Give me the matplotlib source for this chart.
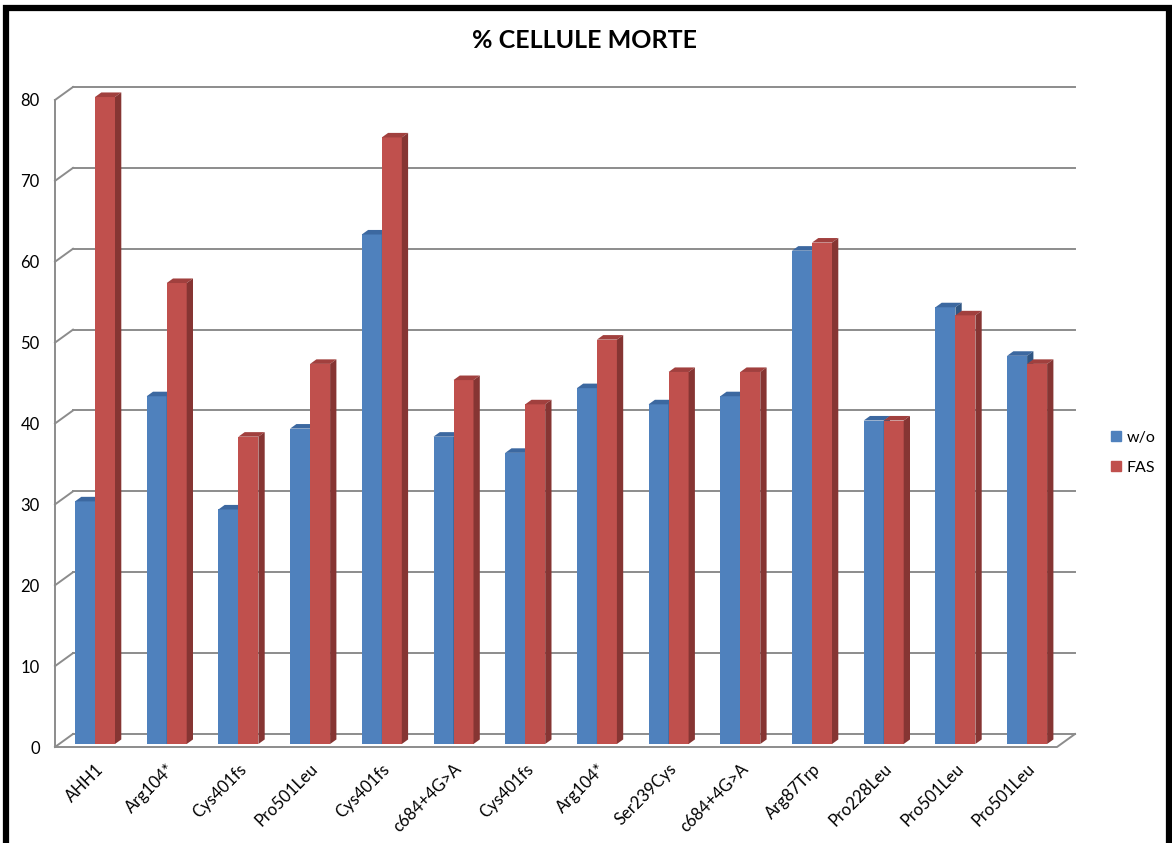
import matplotlib.pyplot as plt
import numpy as np
from matplotlib.patches import Polygon, Rectangle, Patch

plt.rcParams['font.family'] = ['Lato', 'DejaVu Sans']

# dati
labels = ['AHH1', 'Arg104*', 'Cys401fs', 'Pro501Leu', 'Cys401fs', 'c684+4G>A',
          'Cys401fs', 'Arg104*', 'Ser239Cys', 'c684+4G>A', 'Arg87Trp',
          'Pro228Leu', 'Pro501Leu', 'Pro501Leu']
wo = [30, 43, 29, 39, 63, 38, 36, 44, 42, 43, 61, 40, 54, 48]
fas = [80, 57, 38, 47, 75, 45, 42, 50, 46, 46, 62, 40, 53, 47]
yticks = list(range(0, 81, 10))
series_names = ['w/o', 'FAS']

W, H = 1172, 843
fig = plt.figure(figsize=(W / 100, H / 100), dpi=100)

# posizione assi in pixel (piano frontale)
px_left, px_right = 55, 1057
px_zero, px_top = 747, 100
px_center0, px_step = 95, 71.7
ax = fig.add_axes([px_left / W, (H - px_zero) / H,
                   (px_right - px_left) / W, (px_zero - px_top) / H])
x0 = (px_left - px_center0) / px_step
x1 = (px_right - px_center0) / px_step
ax.set_xlim(x0, x1)
ax.set_ylim(0, 80)
for s in ax.spines.values():
    s.set_visible(False)

# profondità 3D in unità dati
unit_y = (px_zero - px_top) / 80
dx = 18 / px_step
dy = 13 / unit_y
grid_col = '#8c8c8c'
lw = 1.4

# pareti e griglia
for v in yticks:
    ax.plot([x0 + dx, x1 + dx], [v + dy, v + dy], color=grid_col, lw=lw,
            clip_on=False, zorder=1)
    ax.plot([x0, x0 + dx], [v, v + dy], color=grid_col, lw=lw,
            clip_on=False, zorder=1)
ax.plot([x0, x0], [0, 80], color=grid_col, lw=lw, clip_on=False, zorder=1)
ax.plot([x0, x1, x1 + dx], [0, 0, dy], color=grid_col, lw=lw,
        clip_on=False, zorder=1)

# barre 3D
pos = np.arange(len(labels))
bw = 20 / px_step
shift = 0.23 * dy
sdx, sdy = 0.35 * dx, 0.35 * dy
styles = [('#4f81bd', '#3c68a0', '#2f5683'), ('#c0504d', '#a1403e', '#863533')]

def bar3d(xl, val, front, top, side, z):
    xr = xl + bw
    t = shift + val
    ax.bar(xl, val, width=bw, bottom=shift, align='edge', color=front,
           lw=0, zorder=z, clip_on=False)
    ax.add_patch(Polygon([(xl, t), (xr, t), (xr + sdx, t + sdy), (xl + sdx, t + sdy)],
                         closed=True, fc=top, ec='none', zorder=z, clip_on=False))
    ax.add_patch(Polygon([(xr, shift), (xr, t), (xr + sdx, t + sdy), (xr + sdx, shift + sdy)],
                         closed=True, fc=side, ec='none', zorder=z, clip_on=False))

for i in pos:
    bar3d(i - bw, wo[i], *styles[0], z=3)
    bar3d(i, fas[i], *styles[1], z=4)

# etichette
ax.set_yticks(yticks)
ax.set_yticklabels([str(v) for v in yticks], fontsize=12)
ax.tick_params(axis='y', length=0, pad=11)
ax.set_xticks(pos)
ax.set_xticklabels(labels, rotation=45, ha='right', rotation_mode='anchor', fontsize=12)
ax.tick_params(axis='x', length=0, pad=10)

fig.text(584 / W, 1 - 41 / H, '% CELLULE MORTE', ha='center', va='center',
         fontsize=18, fontweight='bold')

handles = [Patch(color=styles[0][0], label=series_names[0]),
           Patch(color=styles[1][0], label=series_names[1])]
fig.legend(handles=handles, loc='center left', bbox_to_anchor=(1111 / W, 1 - 453 / H),
           frameon=False, fontsize=11.5, handlelength=0.6, handleheight=0.6,
           handletextpad=0.4, labelspacing=1.0, borderpad=0, borderaxespad=0)

# bordo nero
fig.patches.append(Rectangle((6 / W, -0.05), (1169 - 6) / W, (H - 8) / H + 0.05,
                             transform=fig.transFigure, fill=False, ec='black',
                             lw=4.5, zorder=10))

fig.savefig('out.png', dpi=100)
